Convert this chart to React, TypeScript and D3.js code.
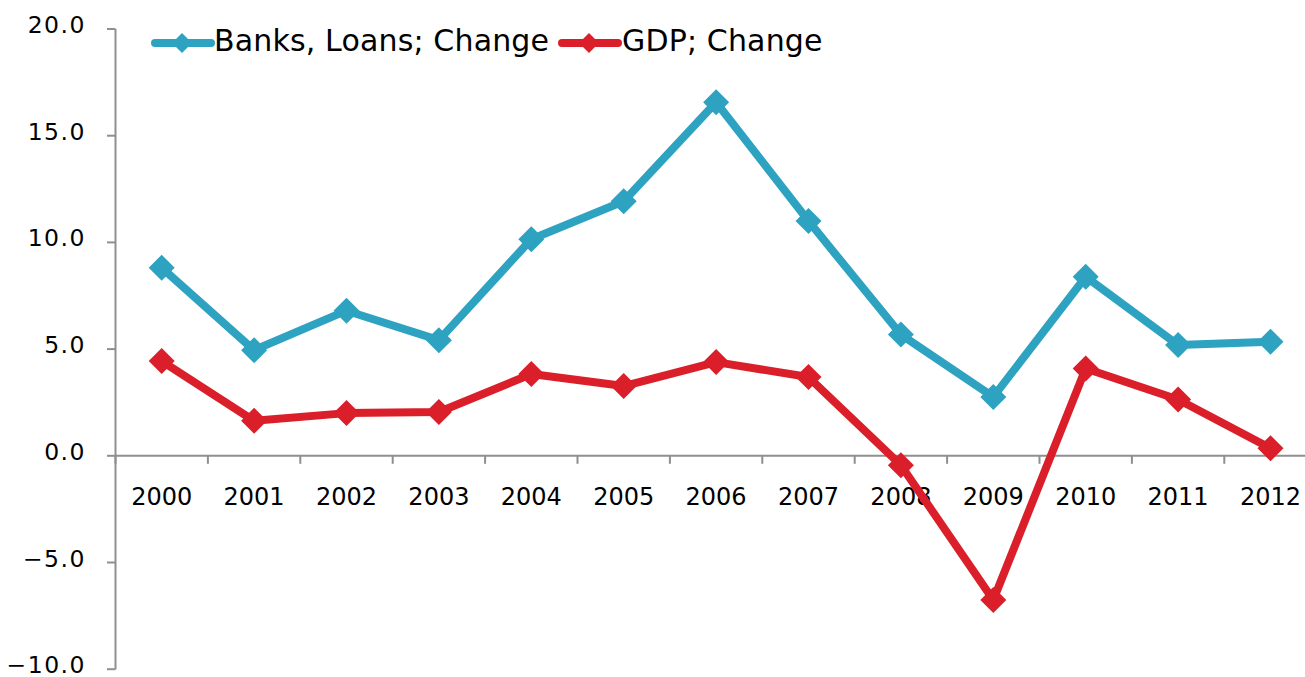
import React from "react";
import * as d3 from "d3";

const years = ["2000","2001","2002","2003","2004","2005","2006","2007","2008","2009","2010","2011","2012"];
const banksLoans = [8.81, 4.95, 6.8, 5.42, 10.15, 11.93, 16.57, 11.0, 5.68, 2.76, 8.39, 5.19, 5.34];
const gdp = [4.44, 1.64, 2.0, 2.05, 3.83, 3.27, 4.39, 3.69, -0.44, -6.76, 4.09, 2.64, 0.35];
const yTicks = [-10, -5, 0, 5, 10, 15, 20];
const seriesNames = ["Banks, Loans; Change", "GDP; Change"];
const seriesColors = ["#2ea3c1", "#da1f2a"];

const W = 1305;
const H = 677;
const FONT = "'DejaVu Sans', Verdana, sans-serif";

export default function App() {
  const x = d3.scaleBand<string>().domain(years).range([115.5, 1316.7]).padding(0);
  const y = d3.scaleLinear().domain([-10, 20]).range([669.2, 29]);
  const cx = (yr: string) => (x(yr) as number) + x.bandwidth() / 2;
  const line = d3.line<[string, number]>().x((d) => cx(d[0])).y((d) => y(d[1]));
  const series = [banksLoans, gdp];
  const axisColor = "#8f8f8f";
  const diamond = (px: number, py: number, r: number) =>
    `M${px},${py - r}L${px + r},${py}L${px},${py + r}L${px - r},${py}Z`;
  const legendX = [155, 562];
  const legendTextX = [214, 622];

  return (
    <svg width={W} height={H} style={{ position: "absolute", left: 0, top: 0, background: "#fff" }}>
      {/* y axis */}
      <line x1={115.5} x2={115.5} y1={y(20)} y2={y(-10)} stroke={axisColor} strokeWidth={2} />
      {yTicks.map((t) => (
        <g key={t}>
          <line x1={107} x2={115.5} y1={y(t)} y2={y(t)} stroke={axisColor} strokeWidth={2} />
          <text x={86} y={y(t) + 4} textAnchor="end" fontFamily={FONT} fontSize={23.5} letterSpacing={1.5} fill="#000">
            {t < 0 ? "\u2212" + Math.abs(t).toFixed(1) : t.toFixed(1)}
          </text>
        </g>
      ))}
      {/* x axis at 0 */}
      <line x1={115.5} x2={1316.7} y1={y(0)} y2={y(0)} stroke={axisColor} strokeWidth={2} />
      {years.map((yr) => (
        <line key={"t" + yr} x1={x(yr) as number} x2={x(yr) as number} y1={y(0)} y2={y(0) + 8} stroke={axisColor} strokeWidth={2} />
      ))}
      {years.map((yr) => (
        <text key={"l" + yr} x={cx(yr)} y={505} textAnchor="middle" fontFamily={FONT} fontSize={24} fill="#000">
          {yr}
        </text>
      ))}
      {/* series */}
      {series.map((vals, i) => {
        const pts = years.map((yr, j) => [yr, vals[j]] as [string, number]);
        return (
          <g key={i}>
            <path d={line(pts) as string} fill="none" stroke={seriesColors[i]} strokeWidth={8} strokeLinejoin="round" />
            {pts.map((p) => (
              <path key={p[0]} d={diamond(cx(p[0]), y(p[1]), 13)} fill={seriesColors[i]} />
            ))}
          </g>
        );
      })}
      {/* legend */}
      {seriesNames.map((name, i) => (
        <g key={name}>
          <line x1={legendX[i]} x2={legendX[i] + 56} y1={43} y2={43} stroke={seriesColors[i]} strokeWidth={8} strokeLinecap="round" />
          <path d={diamond(legendX[i] + 27, 43, 10)} fill={seriesColors[i]} />
          <text x={legendTextX[i]} y={51} fontFamily={FONT} fontSize={30} letterSpacing={0.15} fill="#000">
            {name}
          </text>
        </g>
      ))}
    </svg>
  );
}
